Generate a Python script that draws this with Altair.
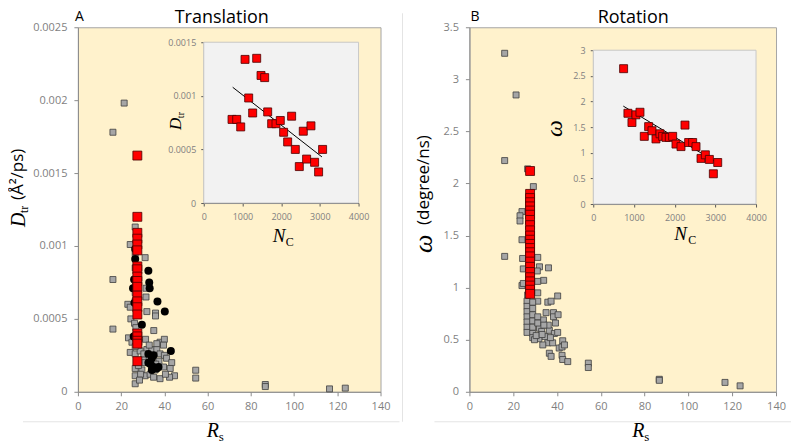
import altair as alt
import pandas as pd

# ---------------- Panel A: Translation ----------------
a_grey_rs = [21.4, 16.2, 16.2, 16.2, 54.5, 54.5, 86.7, 86.7, 116.4, 123.7,
             26.5, 24.2, 31.1, 23.1, 24.2, 31.5, 31.5, 31.9, 35.9, 35.9, 24.5, 26.2, 35.1, 23.4, 25.0,
             31.3, 38.0, 40.0, 39.6, 24.2, 26.5, 28.8, 31.9, 34.2, 36.5, 38.0, 40.0, 41.0, 43.4, 42.7,
             44.7, 42.4, 38.0, 26.5, 26.5, 26.5, 29.6, 31.1, 33.4, 35.0, 35.7, 32.6, 30.2, 28.0, 39.6,
             26.5, 26.5, 26.8, 26.5, 26.5, 26.8, 26.5, 26.5, 29.0, 30.5, 33.0, 36.5, 37.5, 36.0, 40.5,
             28.5, 31.0, 34.0]
a_grey_d = [0.00198, 0.00178, 0.00077, 0.00043, 0.000148, 0.000094, 0.00005, 0.000036, 0.00002, 0.000025,
            0.00113, 0.00101, 0.00092, 0.00060, 0.00058, 0.00071, 0.00065, 0.00055, 0.00054, 0.00052, 0.00050,
            0.00047, 0.00042, 0.00037, 0.00034, 0.00036, 0.00034, 0.00036, 0.00032, 0.00027, 0.00026, 0.00028,
            0.00029, 0.00029, 0.00029, 0.00026, 0.00025, 0.00023, 0.00020, 0.00016, 0.00011, 0.00010, 0.00009,
            0.000055, 0.00011, 0.00016, 0.00015, 0.00011, 0.00012, 0.00010, 0.00015, 0.00023, 0.00022, 0.00018,
            0.00017, 0.00095, 0.00085, 0.00074, 0.00068, 0.00062, 0.00044, 0.00038, 0.00031, 0.00012, 0.00026,
            0.00032, 0.00033, 0.00021, 0.00019, 0.00012, 0.00008, 0.00020, 0.00018]
a_black_rs = [32.6, 33.0, 33.2, 36.8, 40.2, 29.6, 43.0, 26.5, 26.0, 25.5, 25.8, 32.6, 34.2, 35.0,
              32.6, 35.0, 37.3, 34.2, 26.2, 26.5, 33.5, 36.5]
a_black_d = [0.00083, 0.00075, 0.00071, 0.00062, 0.00055, 0.00046, 0.00028, 0.00091, 0.00077, 0.00071,
             0.00038, 0.00026, 0.00023, 0.00025, 0.00020, 0.00017, 0.00017, 0.00015, 0.00061, 0.00098,
             0.00019, 0.00016]
a_red_rs = [27.5] * 20
a_red_d = [0.00162, 0.00120, 0.00109, 0.00105, 0.00101, 0.00097, 0.00086, 0.00084, 0.00079, 0.00076,
           0.00072, 0.00066, 0.00062, 0.00058, 0.00053, 0.00040, 0.00038, 0.00035, 0.00033, 0.00021]
a_in_nc = [731, 852, 955, 1067, 1368, 1480, 1574, 1161, 1264, 1652, 1755, 1867, 1978, 2064, 2168,
           2271, 2366, 2469, 2572, 2658, 2770, 2864, 2968, 3071]
a_in_d = [0.00078, 0.00078, 0.00071, 0.00134, 0.00135, 0.00119, 0.00117, 0.00098, 0.00084, 0.00085,
          0.00074, 0.00074, 0.00077, 0.00066, 0.00057, 0.00081, 0.00050, 0.00034, 0.00067, 0.00041,
          0.00072, 0.00038, 0.00029, 0.00050]
a_fit_nc = [748, 3054]
a_fit_d = [0.00108, 0.00043]

# ---------------- Panel B: Rotation ----------------
b_grey_rs = [16.1, 21.3, 16.1, 16.1, 54.3, 54.3, 86.7, 86.7, 116.7, 123.6,
             26.6, 29.2, 24.0, 23.1, 23.1, 24.0, 24.3, 24.0, 24.6, 31.2, 32.0, 36.1, 33.9, 31.2, 40.3,
             31.2, 31.2, 35.8, 37.3, 26.3, 26.3, 26.3, 26.3, 26.3, 26.3, 26.3, 28.9, 28.9, 28.9, 28.9,
             28.9, 28.9, 28.9, 35.0, 38.4, 38.4, 40.5, 39.3, 33.8, 32.0, 36.5, 38.8, 40.3, 34.5, 35.8,
             38.0, 36.5, 37.3, 42.6, 41.0, 42.3, 43.4, 42.3, 42.6, 44.9, 33.5, 31.7, 29.7, 31.2, 31.2,
             33.0, 30.5, 36.0, 37.0, 34.0, 24.6, 31.0, 26.6, 33.2]
b_grey_w = [3.25, 2.85, 2.22, 1.30, 0.275, 0.233, 0.12, 0.11, 0.09, 0.057,
            2.14, 1.97, 1.73, 1.69, 1.64, 1.46, 1.28, 1.02, 1.04, 1.29, 1.20, 1.19, 1.07, 1.06, 0.92,
            0.95, 0.87, 0.86, 0.87, 0.87, 0.82, 0.77, 0.72, 0.67, 0.62, 0.57, 0.86, 0.80, 0.74, 0.68,
            0.62, 0.56, 0.52, 0.76, 0.76, 0.72, 0.74, 0.66, 0.69, 0.61, 0.59, 0.56, 0.57, 0.53, 0.47,
            0.47, 0.37, 0.34, 0.49, 0.42, 0.43, 0.45, 0.35, 0.31, 0.29, 0.45, 0.51, 0.50, 0.72, 0.66,
            0.58, 0.54, 0.64, 0.52, 0.64, 1.18, 1.16, 0.93, 0.55]
b_red_rs = [27.7] * 24
b_red_w = [2.12, 1.90, 1.86, 1.82, 1.78, 1.74, 1.70, 1.65, 1.60, 1.55, 1.50, 1.46, 1.42, 1.38,
           1.34, 1.30, 1.25, 1.20, 1.15, 1.10, 1.06, 1.02, 0.98, 0.94]
b_in_nc = [746, 852, 951, 1049, 1148, 1254, 1361, 1443, 1541, 1640, 1705, 1787, 1869, 1951, 2033,
           2156, 2254, 2344, 2443, 2525, 2648, 2754, 2853, 2951, 3058]
b_in_w = [2.64, 1.77, 1.59, 1.74, 1.79, 1.32, 1.51, 1.43, 1.27, 1.37, 1.32, 1.30, 1.30, 1.32, 1.17,
          1.12, 1.54, 1.20, 1.20, 1.12, 0.89, 0.96, 0.87, 0.59, 0.81]
b_fit_nc = [738, 3058]
b_fit_w = [1.91, 0.80]

rs_ticks = [0, 20, 40, 60, 80, 100, 120, 140]
nc_ticks = [0, 1000, 2000, 3000, 4000]
a_y_ticks = [0, 0.0005, 0.001, 0.0015, 0.002, 0.0025]
a_in_y_ticks = [0, 0.0005, 0.001, 0.0015]
b_y_ticks = [0, 0.5, 1, 1.5, 2, 2.5, 3, 3.5]
b_in_y_ticks = [0, 0.5, 1, 1.5, 2, 2.5, 3]

H = 365
LABEL = "#7F7F7F"
SERIF = "Liberation Serif"
SANS = "Open Sans"
ONE = pd.DataFrame({"k": [0]})


def txt(s, x, y, size, font=SANS, style="normal", angle=0, color="black", align="left"):
    return alt.Chart(ONE).mark_text(text=s, font=font, fontSize=size, fontStyle=style, angle=angle,
                                    color=color, align=align, baseline="alphabetic").encode(
        x=alt.value(x), y=alt.value(y))


def hline(x1, x2, y):
    return alt.Chart(ONE).mark_rule(color="#E4E4E4", strokeWidth=1).encode(
        x=alt.value(x1), x2=alt.value(x2), y=alt.value(y))


def vline(x, y1, y2):
    return alt.Chart(ONE).mark_rule(color="#E4E4E4", strokeWidth=1).encode(
        x=alt.value(x), y=alt.value(y1), y2=alt.value(y2))


def main_axis_x():
    return alt.Axis(orient="bottom", values=rs_ticks, title=None, grid=False, labelFont=SANS,
                    labelFontSize=11, labelColor=LABEL, domainColor="#8C8C8C", tickColor="#8C8C8C",
                    tickSize=4, labelPadding=5, labelFlush=False)


def main_axis_y(vals):
    return alt.Axis(orient="left", values=vals, format="~g", title=None, grid=False, labelFont=SANS,
                    labelFontSize=11, labelColor=LABEL, domainColor="#8C8C8C", tickColor="#8C8C8C",
                    tickSize=4, labelPadding=7)


def inset_axis_x(xr):
    return alt.Axis(orient="bottom", offset=-(H - xr), values=nc_ticks, format="d", title=None,
                    grid=False, labelFont=SANS, labelFontSize=9, labelColor=LABEL, domainColor="#595959",
                    tickColor="#595959", tickSize=3, labelPadding=6, labelFlush=False)


def inset_axis_y(vals, x0):
    return alt.Axis(orient="left", offset=-x0, values=vals, format="~g", title=None, grid=False,
                    labelFont=SANS, labelFontSize=9, labelColor=LABEL, domainColor="#595959",
                    tickColor="#595959", tickSize=3, labelPadding=5)


def panel(W, grey, black, red, ydom, yticks, inset, fit, in_ydom, in_yticks, xr, yr, texts):
    gx = alt.X("x:Q", scale=alt.Scale(domain=[0, 140], nice=False), axis=main_axis_x())
    gy = alt.Y("y:Q", scale=alt.Scale(domain=ydom, nice=False), axis=main_axis_y(yticks))
    layers = [alt.Chart(pd.DataFrame({"x": grey[0], "y": grey[1]})).mark_square(
        size=36, color="#A6A6A6", stroke="#3F3F3F", strokeWidth=0.8, opacity=1).encode(x=gx, y=gy)]
    if black is not None:
        layers.append(alt.Chart(pd.DataFrame({"x": black[0], "y": black[1]})).mark_circle(
            size=64, color="black", opacity=1).encode(x=gx, y=gy))
    layers.append(alt.Chart(pd.DataFrame({"x": red[0], "y": red[1]})).mark_square(
        size=80, color="#FF0000", stroke="#4A0000", strokeWidth=0.8, opacity=1).encode(x=gx, y=gy))
    main = alt.layer(*layers)

    ix = alt.X("x:Q", scale=alt.Scale(domain=[0, 4000], range=list(xr), nice=False),
               axis=inset_axis_x(yr[0]))
    iy = alt.Y("y:Q", scale=alt.Scale(domain=in_ydom, range=list(yr), nice=False),
               axis=inset_axis_y(in_yticks, xr[0]))
    bg = alt.Chart(pd.DataFrame({"x": [0], "x2": [4000], "y": [in_ydom[0]], "y2": [in_ydom[1]]})).mark_rect(
        fill="#F2F2F2", stroke="#C8C8C8", strokeWidth=1).encode(x=ix, x2="x2:Q", y=iy, y2="y2:Q")
    fitline = alt.Chart(pd.DataFrame({"x": fit[0], "y": fit[1]})).mark_line(
        color="black", strokeWidth=1).encode(x=ix, y=iy)
    pts = alt.Chart(pd.DataFrame({"x": inset[0], "y": inset[1]})).mark_square(
        size=64, color="#FF0000", stroke="#4A0000", strokeWidth=0.8, opacity=1).encode(x=ix, y=iy)
    ins = alt.layer(bg, fitline, pts)

    return alt.layer(main, ins, *texts).resolve_scale(x="independent", y="independent").properties(
        width=W, height=H)


textsA = [
    hline(-55, 322, 395),
    txt("A", -3, -6, 14),
    txt("Translation", 144, -4, 18, align="center"),
    txt("D", -53, 200, 20, font=SERIF, style="italic", angle=270),
    txt("tr", -50, 186, 12, font=SERIF, angle=270),
    txt("(Å²/ps)", -55, 173, 17, angle=270),
    txt("R", 129, 410, 20, font=SERIF, style="italic"),
    txt("s", 141, 414, 13, font=SERIF),
    txt("D", 103, 103, 17, font=SERIF, style="italic", angle=270),
    txt("tr", 106, 91, 10, font=SERIF, angle=270),
    txt("N", 195, 215, 19, font=SERIF, style="italic"),
    txt("C", 208, 219, 12, font=SERIF),
]
textsB = [
    vline(-67, -14, 395),
    hline(-35, 322, 395),
    txt("B", 1, -6, 14),
    txt("Rotation", 164, -4, 18, align="center"),
    txt("ω", -37, 226, 26, font=SERIF, style="italic", angle=270),
    txt("(degree/ns)", -40, 198, 17, angle=270),
    txt("R", 163, 410, 20, font=SERIF, style="italic"),
    txt("s", 175, 414, 13, font=SERIF),
    txt("ω", 93, 110, 24, font=SERIF, style="italic", angle=270),
    txt("N", 205, 213, 19, font=SERIF, style="italic"),
    txt("C", 219, 217, 12, font=SERIF),
]

panelA = panel(303, (a_grey_rs, a_grey_d), (a_black_rs, a_black_d), (a_red_rs, a_red_d),
               [0, 0.0025], a_y_ticks, (a_in_nc, a_in_d), (a_fit_nc, a_fit_d), [0, 0.0015], a_in_y_ticks,
               (126, 281), (176, 15), textsA)
panelB = panel(307, (b_grey_rs, b_grey_w), None, (b_red_rs, b_red_w),
               [0, 3.5], b_y_ticks, (b_in_nc, b_in_w), (b_fit_nc, b_fit_w), [0, 3], b_in_y_ticks,
               (124, 287), (177, 23), textsB)

chart = alt.hconcat(panelA, panelB, spacing=89, bounds="flush").properties(padding=0).configure_view(
    fill="#FFF2CC", stroke="#A6A6A6")

chart.save("out.html", embed_options={"renderer": "svg", "actions": False})
